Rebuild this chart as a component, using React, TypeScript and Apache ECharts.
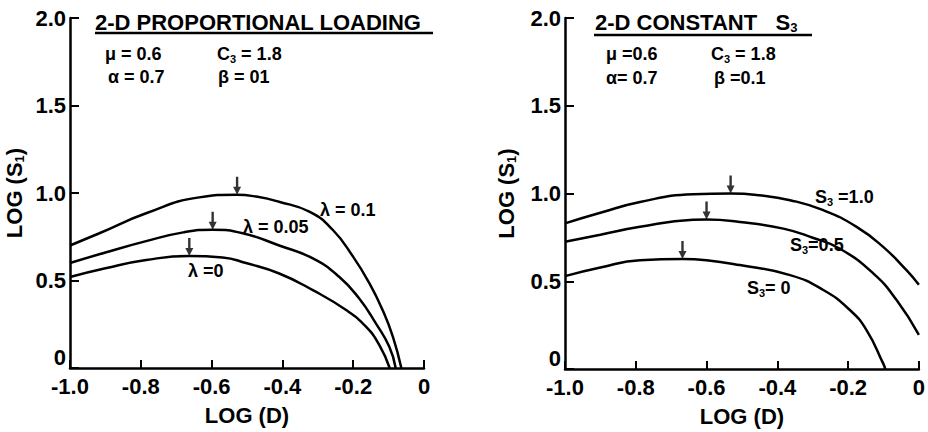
import React, { useEffect, useRef } from "react";
import * as echarts from "echarts";

// ---- axis ticks ----
const xTickLabels = ["-1.0", "-0.8", "-0.6", "-0.4", "-0.2", "0"];
const yTickLabels = ["0", "0.5", "1.0", "1.5", "2.0"];

// ---- left panel: 2-D proportional loading ----
const lambda01: number[][] = [
  [-1.0, 0.70], [-0.917, 0.77], [-0.785, 0.884], [-0.635, 0.975], [-0.53, 0.99],
  [-0.47, 0.978], [-0.41, 0.95], [-0.324, 0.893], [-0.258, 0.79], [-0.2, 0.635],
  [-0.154, 0.483], [-0.117, 0.331], [-0.088, 0.179], [-0.064, 0.0],
];
const lambda005: number[][] = [
  [-1.0, 0.60], [-0.9, 0.66], [-0.785, 0.725], [-0.68, 0.775], [-0.597, 0.79],
  [-0.512, 0.77], [-0.409, 0.70], [-0.314, 0.626], [-0.239, 0.52], [-0.183, 0.397],
  [-0.136, 0.255], [-0.098, 0.121], [-0.08, 0.0],
];
const lambda0: number[][] = [
  [-1.0, 0.52], [-0.9, 0.57], [-0.785, 0.617], [-0.663, 0.64], [-0.569, 0.632],
  [-0.503, 0.60], [-0.409, 0.54], [-0.314, 0.445], [-0.22, 0.331], [-0.164, 0.236],
  [-0.126, 0.131], [-0.097, 0.0],
];
const leftPeaks: number[][] = [[-0.528, 0.99], [-0.597, 0.79], [-0.663, 0.64]];

// ---- right panel: 2-D constant S3 ----
const s3one: number[][] = [
  [-1.0, 0.83], [-0.9, 0.89], [-0.788, 0.952], [-0.638, 0.996], [-0.532, 1.0],
  [-0.45, 0.99], [-0.364, 0.962], [-0.27, 0.905], [-0.176, 0.81], [-0.101, 0.696],
  [-0.035, 0.563], [0.0, 0.48],
];
const s3half: number[][] = [
  [-1.0, 0.725], [-0.9, 0.765], [-0.788, 0.81], [-0.638, 0.85], [-0.6, 0.852],
  [-0.506, 0.838], [-0.383, 0.80], [-0.3, 0.748], [-0.223, 0.685], [-0.129, 0.545],
  [-0.063, 0.393], [0.0, 0.195],
];
const s3zero: number[][] = [
  [-1.0, 0.529], [-0.9, 0.578], [-0.788, 0.62], [-0.668, 0.627], [-0.6, 0.62],
  [-0.506, 0.592], [-0.364, 0.535], [-0.27, 0.45], [-0.195, 0.336], [-0.148, 0.222],
  [-0.101, 0.032], [-0.095, 0.0],
];
const rightPeaks: number[][] = [[-0.532, 1.0], [-0.6, 0.852], [-0.668, 0.627]];

const FONT = "Liberation Sans";
const ARROW = "path://M2.8,0 L5.2,0 L5.2,10 L8,10 L4,18 L0,10 L2.8,10 Z";

const subRich = {
  m: { fontSize: 22, fontWeight: "bold", fontFamily: FONT, color: "#000", lineHeight: 24 },
  sub: { fontSize: 13, fontWeight: "bold", fontFamily: FONT, color: "#000", verticalAlign: "bottom", lineHeight: 6 },
};
const smallRich = {
  m: { fontSize: 18, fontWeight: "bold", fontFamily: FONT, color: "#000", lineHeight: 20 },
  sub: { fontSize: 11, fontWeight: "bold", fontFamily: FONT, color: "#000", verticalAlign: "bottom", lineHeight: 5 },
};

function makeX(gridIndex: number, gap: number) {
  return {
    type: "value",
    gridIndex,
    min: -1,
    max: 0,
    interval: 0.2,
    name: "LOG (D)",
    nameLocation: "middle",
    nameGap: gap,
    nameTextStyle: { fontSize: 22, fontWeight: "bold", fontFamily: FONT, color: "#000" },
    axisLine: { show: true, onZero: false, lineStyle: { color: "#000", width: 2.5 } },
    axisTick: { show: true, inside: true, length: 8, lineStyle: { color: "#000", width: 2 } },
    axisLabel: {
      margin: 7,
      fontSize: 22,
      fontWeight: "bold",
      fontFamily: FONT,
      color: "#000",
      formatter: (v: number) => xTickLabels[Math.round((v + 1) / 0.2)],
    },
    splitLine: { show: false },
  };
}

function makeY(gridIndex: number, gap: number) {
  return {
    type: "value",
    gridIndex,
    min: 0,
    max: 2,
    interval: 0.5,
    name: "{m|LOG (S}{sub|1}{m|)}",
    nameLocation: "middle",
    nameGap: gap,
    nameRotate: 90,
    nameTextStyle: { fontSize: 22, fontFamily: FONT, color: "#000", rich: subRich },
    axisLine: { show: true, onZero: false, lineStyle: { color: "#000", width: 2.5 } },
    axisTick: { show: true, inside: true, length: 9, lineStyle: { color: "#000", width: 2 } },
    axisLabel: {
      margin: 4,
      fontSize: 22,
      fontWeight: "bold",
      fontFamily: FONT,
      color: "#000",
      verticalAlignMinLabel: "bottom",
      formatter: (v: number) => yTickLabels[Math.round(v / 0.5)],
    },
    splitLine: { show: false },
  };
}

function curve(data: number[][], idx: number) {
  return {
    type: "line",
    xAxisIndex: idx,
    yAxisIndex: idx,
    data,
    showSymbol: false,
    smooth: 0.5,
    lineStyle: { color: "#000", width: 2.5 },
    silent: true,
  };
}

function arrows(data: number[][], idx: number) {
  return {
    type: "scatter",
    xAxisIndex: idx,
    yAxisIndex: idx,
    data,
    symbol: ARROW,
    symbolSize: [8, 18],
    symbolOffset: [0, "-50%"],
    itemStyle: { color: "#000" },
    silent: true,
  };
}

function txt(x: number, y: number, text: string, rich: any) {
  return {
    type: "text",
    x,
    y,
    style: { text, rich, verticalAlign: "middle", align: "left", fill: "#000" },
  };
}

export default function App() {
  const ref = useRef<HTMLDivElement>(null);
  useEffect(() => {
    if (!ref.current) return;
    const chart = echarts.init(ref.current, null, { renderer: "svg" });
    chart.setOption({
      animation: false,
      backgroundColor: "#fff",
      grid: [
        { left: 70, top: 18, width: 354, height: 350 },
        { left: 565, top: 18, width: 354, height: 351 },
      ],
      xAxis: [makeX(0, 36), makeX(1, 36)],
      yAxis: [makeY(0, 44), makeY(1, 47)],
      series: [
        curve(lambda01, 0),
        curve(lambda005, 0),
        curve(lambda0, 0),
        arrows(leftPeaks, 0),
        curve(s3one, 1),
        curve(s3half, 1),
        curve(s3zero, 1),
        arrows(rightPeaks, 1),
      ],
      graphic: [
        txt(95, 22, "{m|2-D PROPORTIONAL LOADING}", subRich),
        { type: "line", shape: { x1: 95, y1: 33, x2: 433, y2: 33 }, style: { stroke: "#000", lineWidth: 2.5 } },
        txt(595, 22, "{m|2-D CONSTANT   S}{sub|3}", subRich),
        { type: "line", shape: { x1: 594, y1: 35, x2: 812, y2: 35 }, style: { stroke: "#000", lineWidth: 2.5 } },

        txt(105, 54, "{m|μ = 0.6}", smallRich),
        txt(217, 54, "{m|C}{sub|3}{m| = 1.8}", smallRich),
        txt(108, 77, "{m|α = 0.7}", smallRich),
        txt(218, 77, "{m|β = 01}", smallRich),

        txt(606, 54, "{m|μ =0.6}", smallRich),
        txt(711, 54, "{m|C}{sub|3}{m| = 1.8}", smallRich),
        txt(606, 78, "{m|α= 0.7}", smallRich),
        txt(714, 78, "{m|β =0.1}", smallRich),

        txt(320, 210, "{m|λ = 0.1}", smallRich),
        txt(243, 227, "{m|λ = 0.05}", smallRich),
        txt(188, 271, "{m|λ =0}", smallRich),

        txt(815, 197, "{m|S}{sub|3}{m| =1.0}", smallRich),
        txt(790, 245, "{m|S}{sub|3}{m|=0.5}", smallRich),
        txt(747, 288, "{m|S}{sub|3}{m|= 0}", smallRich),
      ],
    });
    return () => chart.dispose();
  }, []);
  return (
    <div
      ref={ref}
      style={{ position: "absolute", left: 0, top: 0, width: 928, height: 432 }}
    />
  );
}
